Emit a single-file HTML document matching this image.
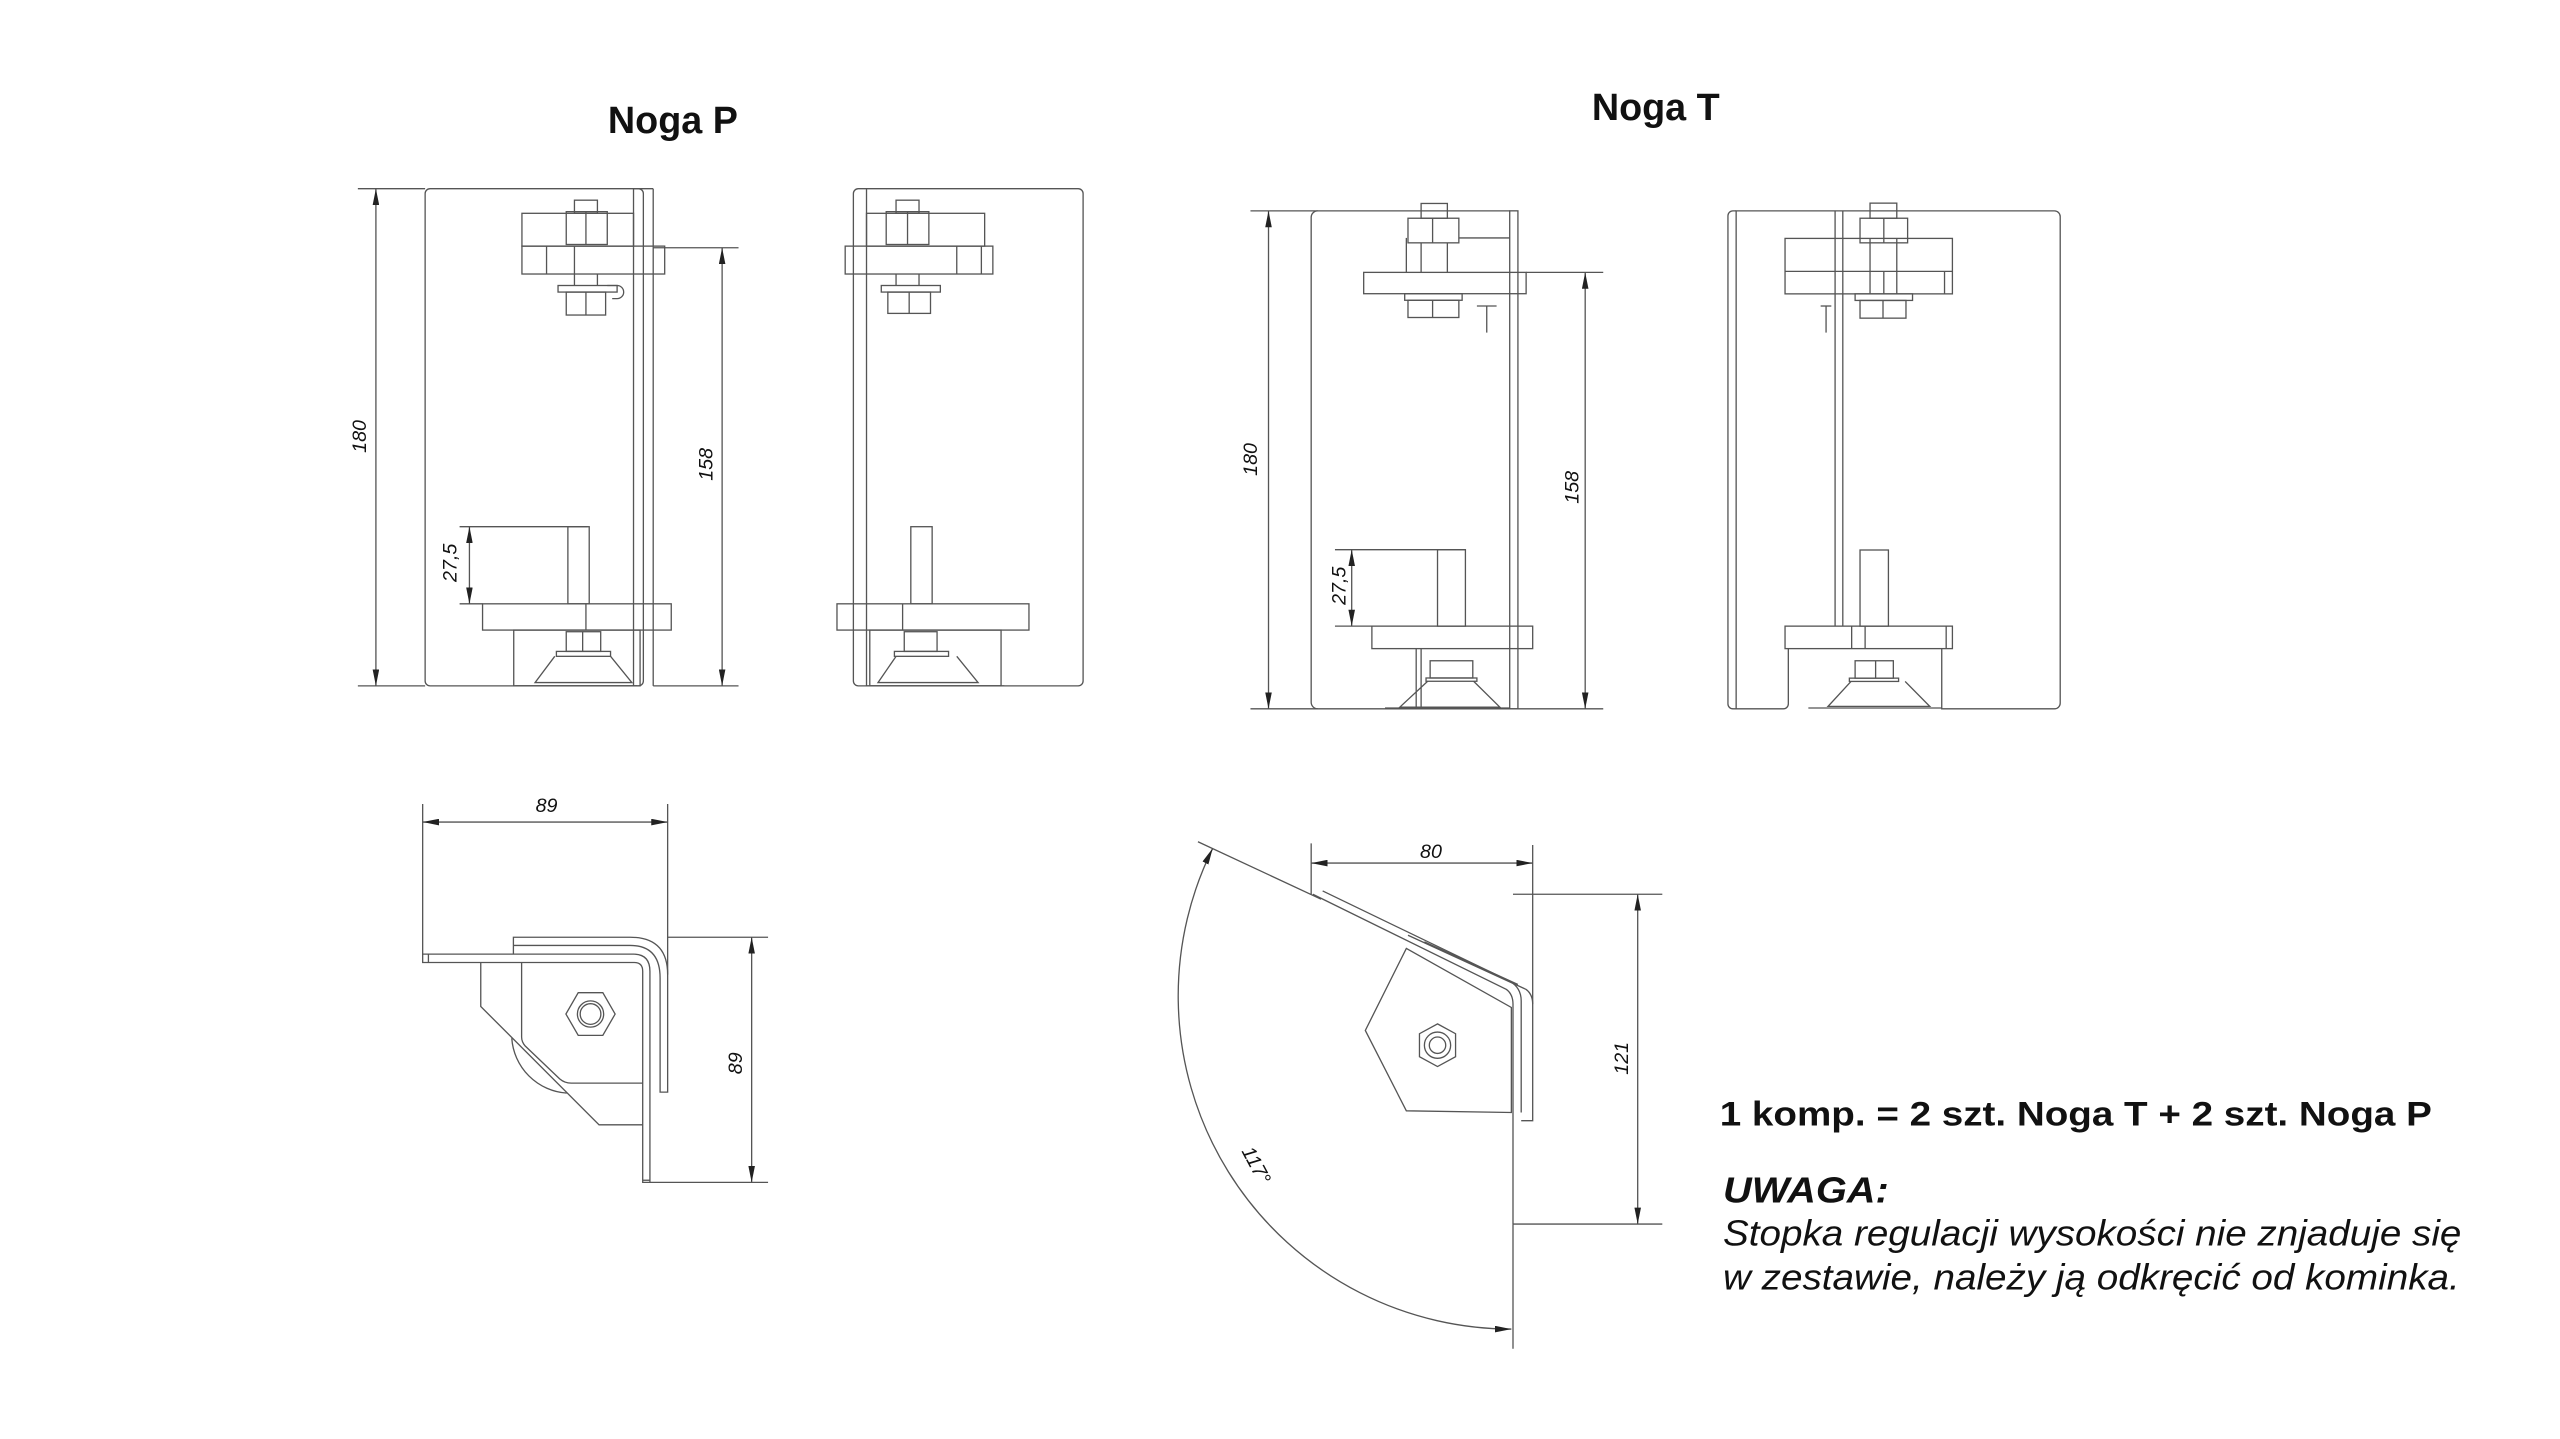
<!DOCTYPE html>
<html><head><meta charset="utf-8"><style>
html,body{margin:0;padding:0;background:#fff}
svg{display:block}
text{font-family:"Liberation Sans Narrow","Liberation Sans",sans-serif;fill:#111}
</style></head><body>
<svg width="2560" height="1439" viewBox="0 0 1560 877" xmlns="http://www.w3.org/2000/svg">
<defs>
<marker id="a" viewBox="0 0 10 4" refX="10" refY="2" markerWidth="10" markerHeight="4" orient="auto-start-reverse" markerUnits="userSpaceOnUse"><path d="M0,0 L10,2 L0,4 z" fill="#222"/></marker>
</defs>
<rect width="1560" height="877" fill="#fff"/>
<g fill="none" stroke="#555" stroke-width="0.8">

<!-- ===== Noga P front ===== -->
<rect x="259" y="115" width="133" height="303" rx="3"/>
<line x1="386" y1="115" x2="386" y2="418"/><line x1="398" y1="115" x2="398" y2="418"/><line x1="386" y1="115" x2="398" y2="115"/>
<rect x="318" y="130" width="68" height="20"/>
<rect x="318" y="150" width="87" height="17"/>
<line x1="333" y1="150" x2="333" y2="167"/><line x1="350" y1="150" x2="350" y2="167"/>
<rect x="350" y="122" width="14" height="8"/>
<rect x="345" y="129" width="25" height="20"/>
<line x1="357" y1="129" x2="357" y2="149"/>
<line x1="350" y1="167" x2="350" y2="174"/><line x1="364" y1="167" x2="364" y2="174"/>
<rect x="340" y="174" width="36" height="4"/>
<rect x="345" y="178" width="24" height="14"/>
<line x1="357" y1="178" x2="357" y2="192"/>
<path d="M370,174 h6 a4,4 0 0 1 0,8 h-3"/>
<rect x="346" y="321" width="13" height="47"/>
<rect x="294" y="368" width="115" height="16"/>
<line x1="357" y1="368" x2="357" y2="384"/>
<rect x="313" y="384" width="77" height="34"/>
<rect x="345" y="385" width="21" height="12"/>
<line x1="355" y1="385" x2="355" y2="397"/>
<rect x="339" y="397" width="33" height="3"/>
<path d="M338,400 L326,416 L385,416 L372,400"/>
<line x1="314" y1="418" x2="388" y2="418"/>
<line x1="218" y1="115" x2="259" y2="115"/><line x1="218" y1="418" x2="259" y2="418"/>
<line x1="229" y1="115" x2="229" y2="418" marker-start="url(#a)" marker-end="url(#a)"/>
<line x1="398" y1="151" x2="450" y2="151"/><line x1="398" y1="418" x2="450" y2="418"/>
<line x1="440" y1="151" x2="440" y2="418" marker-start="url(#a)" marker-end="url(#a)"/>
<line x1="280" y1="321" x2="358" y2="321"/><line x1="280" y1="368" x2="294" y2="368"/>
<line x1="286" y1="321" x2="286" y2="368" marker-start="url(#a)" marker-end="url(#a)"/>

<!-- ===== Noga P side ===== -->
<rect x="520" y="115" width="140" height="303" rx="3"/>
<line x1="528" y1="115" x2="528" y2="418"/>
<rect x="528" y="130" width="72" height="20"/>
<rect x="515" y="150" width="90" height="17"/>
<line x1="583" y1="150" x2="583" y2="167"/><line x1="598" y1="150" x2="598" y2="167"/>
<rect x="546" y="122" width="14" height="8"/>
<rect x="540" y="129" width="26" height="20"/>
<line x1="553" y1="129" x2="553" y2="149"/>
<line x1="546" y1="167" x2="546" y2="174"/><line x1="560" y1="167" x2="560" y2="174"/>
<rect x="537" y="174" width="36" height="4"/>
<rect x="541" y="178" width="26" height="13"/>
<line x1="554" y1="178" x2="554" y2="191"/>
<rect x="555" y="321" width="13" height="47"/>
<rect x="510" y="368" width="117" height="16"/>
<line x1="550" y1="368" x2="550" y2="384"/>
<rect x="530" y="384" width="80" height="34"/>
<rect x="551" y="385" width="20" height="12"/>
<rect x="545" y="397" width="33" height="3"/>
<path d="M546,400 L535,416 L596,416 L583,400"/>
<line x1="528" y1="418" x2="612" y2="418"/>

<!-- ===== Noga T front ===== -->
<path d="M920,128.5 H803 a4,4 0 0 0 -4,4 V428 a4,4 0 0 0 4,4 H925"/>
<rect x="920" y="128.5" width="5" height="303.5"/>
<rect x="866" y="124" width="16" height="9"/>
<rect x="858" y="133" width="31" height="15"/>
<line x1="873" y1="133" x2="873" y2="148"/>
<line x1="857" y1="145" x2="857" y2="166"/><line x1="889" y1="145" x2="920" y2="145"/>
<line x1="866" y1="148" x2="866" y2="166"/><line x1="882" y1="148" x2="882" y2="166"/>
<rect x="831" y="166" width="99" height="13"/>
<rect x="856" y="179" width="35" height="4"/>
<rect x="858" y="183" width="31" height="10.5"/>
<line x1="873" y1="183" x2="873" y2="193.5"/>
<line x1="900" y1="186.5" x2="912" y2="186.5"/><line x1="906" y1="186.5" x2="906" y2="202.7"/>
<rect x="876" y="335" width="17" height="46.6"/>
<rect x="836" y="381.6" width="98" height="13.7"/>
<line x1="863" y1="395.3" x2="863" y2="432"/><line x1="866" y1="395.3" x2="866" y2="432"/>
<rect x="871.5" y="402.7" width="26" height="10.5"/>
<rect x="869" y="413.2" width="31" height="2"/>
<path d="M870,415.2 L853,431 L914,431 L898,415.2"/>
<line x1="844" y1="431.5" x2="920" y2="431.5"/>
<line x1="762" y1="128.5" x2="803" y2="128.5"/><line x1="762" y1="432" x2="803" y2="432"/>
<line x1="773" y1="128.5" x2="773" y2="432" marker-start="url(#a)" marker-end="url(#a)"/>
<line x1="930" y1="166" x2="977" y2="166"/><line x1="925" y1="432" x2="977" y2="432"/>
<line x1="966" y1="166" x2="966" y2="432" marker-start="url(#a)" marker-end="url(#a)"/>
<line x1="813.5" y1="335" x2="893" y2="335"/><line x1="813.5" y1="381.6" x2="836" y2="381.6"/>
<line x1="823.7" y1="335" x2="823.7" y2="381.6" marker-start="url(#a)" marker-end="url(#a)"/>

<!-- ===== Noga T side ===== -->
<path d="M1089.8,395.3 V429 a3,3 0 0 1 -3,3 H1058 V128.5 H1252 a3.5,3.5 0 0 1 3.5,3.5 V428.5 a3.5,3.5 0 0 1 -3.5,3.5 H1183.3 V395.3"/>
<path d="M1058,128.5 H1056 a3,3 0 0 0 -3,3 V429 a3,3 0 0 0 3,3 H1058"/>
<line x1="1118.3" y1="128.5" x2="1118.3" y2="381.6"/><line x1="1123" y1="128.5" x2="1123" y2="381.6"/>
<rect x="1087.8" y="145.3" width="102" height="33.8"/>
<line x1="1087.8" y1="165.4" x2="1189.8" y2="165.4"/>
<line x1="1139.6" y1="145.3" x2="1139.6" y2="179.1"/><line x1="1148" y1="165.4" x2="1148" y2="179.1"/><line x1="1155.9" y1="145.3" x2="1155.9" y2="179.1"/>
<line x1="1185" y1="165.4" x2="1185" y2="179.1"/>
<rect x="1139.6" y="123.8" width="16.3" height="9.2"/>
<rect x="1133.5" y="133" width="29" height="15"/>
<line x1="1148" y1="133" x2="1148" y2="148"/>
<rect x="1130.5" y="179.1" width="35" height="4"/>
<rect x="1133.5" y="183.1" width="28" height="10.8"/>
<line x1="1147.5" y1="183.1" x2="1147.5" y2="193.9"/>
<line x1="1109.5" y1="186.5" x2="1116" y2="186.5"/><line x1="1112.8" y1="186.5" x2="1112.8" y2="202.7"/>
<rect x="1133.5" y="335.2" width="17.3" height="46.4"/>
<rect x="1087.8" y="381.6" width="102" height="13.7"/>
<line x1="1128.4" y1="381.6" x2="1128.4" y2="395.3"/><line x1="1136.6" y1="381.6" x2="1136.6" y2="395.3"/><line x1="1186" y1="381.6" x2="1186" y2="395.3"/>
<rect x="1130.5" y="402.7" width="23.3" height="10.6"/>
<line x1="1143" y1="402.7" x2="1143" y2="413.3"/>
<rect x="1127" y="413.3" width="30" height="2"/>
<path d="M1128,415.3 L1114,430.5 L1176,430.5 L1161,415.3"/>
<line x1="1102" y1="431.5" x2="1183.3" y2="431.5"/>

<!-- ===== Noga P plan ===== -->
<path d="M257.5,581.5 H386 Q396,581.5 396,592 V720.6 H391.6 V592 Q391.6,586.6 386.5,586.6 H257.5 Z"/>
<line x1="261" y1="581.5" x2="261" y2="586.6"/>
<line x1="391.6" y1="719.3" x2="396" y2="719.3"/>
<path d="M312.8,581.5 V571.2 H384 Q406.8,571.2 406.8,594 V665.6 H402.2 V596 Q402.2,576.2 384,576.2 H312.8"/>
<path d="M292.9,586.6 V613.4 L365,685.5 H391.6"/>
<path d="M317.8,586.6 V632 Q317.8,635 320,637.5 L341,657.5 Q344,660.1 348,660.1 H391.6"/>
<path d="M311.8,632.7 A36,36 0 0 0 345.3,666.2"/>
<polygon points="374.8,618 367.3,605 352.3,605 344.8,618 352.3,631 367.3,631"/>
<circle cx="359.8" cy="618" r="8"/><circle cx="359.8" cy="618" r="6.3"/>
<line x1="257.5" y1="490" x2="257.5" y2="581.5"/><line x1="406.8" y1="490" x2="406.8" y2="594"/>
<line x1="257.5" y1="501" x2="406.8" y2="501" marker-start="url(#a)" marker-end="url(#a)"/>
<line x1="406.8" y1="571.2" x2="468" y2="571.2"/><line x1="396" y1="720.6" x2="468" y2="720.6"/>
<line x1="458" y1="571.2" x2="458" y2="720.6" marker-start="url(#a)" marker-end="url(#a)"/>

<!-- ===== Noga T plan ===== -->
<path d="M800,545 L918,603 Q922,606 922,612 V746 M806,543 L920,598 Q927,602 927,610 V678"/>
<path d="M858,570 L930,603 Q934,606 934,612 V683 H927"/>
<path d="M868,574 L925,600"/>
<polygon points="857,578 832,628 857,677 921,678 921,614"/>
<polygon points="876,624 887,630 887,644 876,650 865,644 865,630"/>
<circle cx="876" cy="637" r="8"/><circle cx="876" cy="637" r="5"/>
<line x1="799" y1="514" x2="799" y2="545"/><line x1="934" y1="515" x2="934" y2="612"/>
<line x1="799" y1="526" x2="934" y2="526" marker-start="url(#a)" marker-end="url(#a)"/>
<line x1="922" y1="545" x2="1013" y2="545"/><line x1="922" y1="746" x2="1013" y2="746"/>
<line x1="998" y1="545" x2="998" y2="746" marker-start="url(#a)" marker-end="url(#a)"/>
<line x1="730" y1="513" x2="805" y2="548"/>
<line x1="922" y1="746" x2="922" y2="822"/>
<path d="M739,517 A203,203 0 0 0 921,810" marker-start="url(#a)" marker-end="url(#a)"/>
</g>

<g font-size="12" font-style="italic">
<text transform="translate(223,266) rotate(-90)" text-anchor="middle">180</text>
<text transform="translate(434,283) rotate(-90)" text-anchor="middle">158</text>
<text transform="translate(278,343) rotate(-90)" text-anchor="middle">27,5</text>
<text transform="translate(766,280) rotate(-90)" text-anchor="middle">180</text>
<text transform="translate(962,297) rotate(-90)" text-anchor="middle">158</text>
<text transform="translate(820,357) rotate(-90)" text-anchor="middle">27,5</text>
<text x="333" y="495" text-anchor="middle">89</text>
<text transform="translate(452,648) rotate(-90)" text-anchor="middle">89</text>
<text x="872" y="523" text-anchor="middle">80</text>
<text transform="translate(992,645) rotate(-90)" text-anchor="middle">121</text>
<text transform="translate(762,712) rotate(62)" text-anchor="middle">117°</text>
</g>
<g>
<text x="410" y="81" font-size="23" font-weight="bold" text-anchor="middle" style="font-family:'Liberation Sans',sans-serif">Noga P</text>
<text x="1009" y="73" font-size="23" font-weight="bold" text-anchor="middle" style="font-family:'Liberation Sans',sans-serif">Noga T</text>
<text x="1048" y="686" font-size="21" font-weight="bold" textLength="434" lengthAdjust="spacingAndGlyphs" style="font-family:'Liberation Sans',sans-serif">1 komp. = 2 szt. Noga T + 2 szt. Noga P</text>
<text x="1050" y="733" font-size="22" font-weight="bold" font-style="italic" textLength="101" lengthAdjust="spacingAndGlyphs" style="font-family:'Liberation Sans',sans-serif">UWAGA:</text>
<text x="1050" y="759" font-size="22" font-style="italic" textLength="450" lengthAdjust="spacingAndGlyphs" style="font-family:'Liberation Sans',sans-serif">Stopka regulacji wysokości nie znjaduje się</text>
<text x="1050" y="786" font-size="22" font-style="italic" textLength="449" lengthAdjust="spacingAndGlyphs" style="font-family:'Liberation Sans',sans-serif">w zestawie, należy ją odkręcić od kominka.</text>
</g>
</svg>
</body></html>
